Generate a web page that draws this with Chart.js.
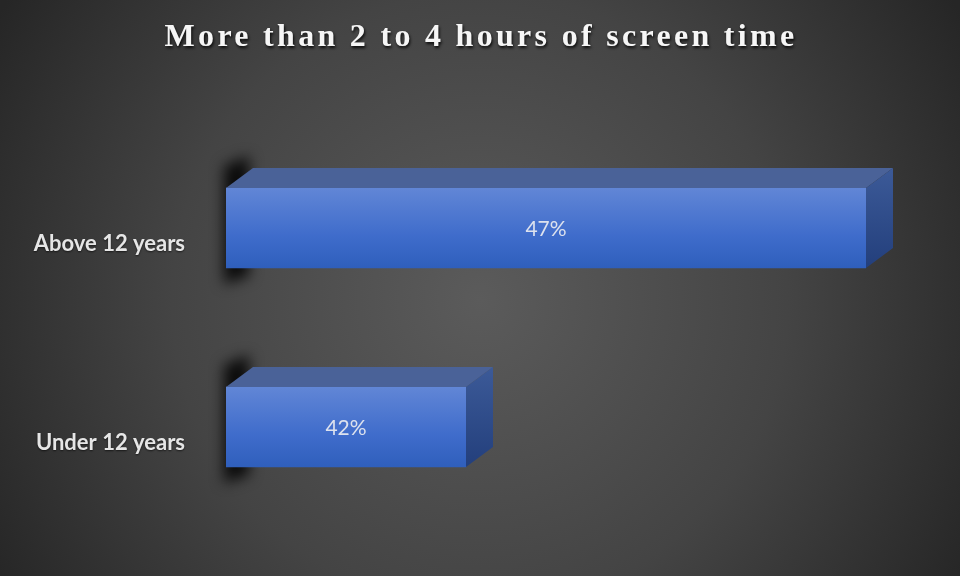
<!DOCTYPE html>
<html>
<head>
<meta charset="utf-8">
<script src="https://cdn.jsdelivr.net/npm/chart.js@4.4.0/dist/chart.umd.min.js"></script>
<style>
  html, body { margin: 0; padding: 0; background: #2a2a2a; }
  #wrap { width: 960px; height: 576px; }
</style>
</head>
<body>
<div id="wrap"><canvas id="chart"></canvas></div>
<script>
// data
const categories = ["Above 12 years", "Under 12 years"];
const values = [47, 42];
const valueLabels = ["47%", "42%"];
const axisMin = 39;
const axisMax = 47;
const titleText = "More than 2 to 4 hours of screen time";

// depth of the 3d box
const DX = 27, DY = 20;

// background + title
const backdrop = {
  id: "backdrop",
  beforeDraw(chart) {
    const c = chart.ctx, w = chart.width, h = chart.height;
    c.save();
    const g = c.createRadialGradient(480, 300, 0, 480, 300, 560);
    g.addColorStop(0, "#5b5b5b");
    g.addColorStop(0.55, "#444444");
    g.addColorStop(1, "#262626");
    c.fillStyle = g;
    c.fillRect(0, 0, w, h);

    c.font = "bold 32px 'Liberation Serif'";
    c.letterSpacing = "3.3px";
    c.textAlign = "center";
    c.textBaseline = "middle";
    c.shadowColor = "rgba(0,0,0,0.85)";
    c.shadowBlur = 3;
    c.shadowOffsetX = 1;
    c.shadowOffsetY = 2;
    c.fillStyle = "#f6f6f6";
    c.fillText(titleText, 481, 38);
    c.restore();
  }
};

// shadow behind the left end of each bar
const wallShadow = {
  id: "wallShadow",
  beforeDatasetsDraw(chart) {
    const c = chart.ctx;
    const meta = chart.getDatasetMeta(0);
    c.save();
    c.filter = "blur(7px)";
    c.fillStyle = "rgba(0,0,0,0.85)";
    meta.data.forEach(el => {
      const top = el.y - el.height / 2, bottom = el.y + el.height / 2;
      c.beginPath();
      c.moveTo(el.base - 2, top - 22);
      c.lineTo(el.base + DX - 4, top - DY - 12);
      c.lineTo(el.base + DX - 4, bottom + 8);
      c.lineTo(el.base - 2, bottom + 16);
      c.closePath();
      c.fill();
    });
    c.restore();
  }
};

// top + side faces, value labels, category labels
const box3d = {
  id: "box3d",
  afterDatasetsDraw(chart) {
    const c = chart.ctx;
    const meta = chart.getDatasetMeta(0);
    c.save();
    meta.data.forEach((el, i) => {
      const top = el.y - el.height / 2, bottom = el.y + el.height / 2;
      // top face
      c.beginPath();
      c.moveTo(el.base, top);
      c.lineTo(el.base + DX, top - DY);
      c.lineTo(el.x + DX, top - DY);
      c.lineTo(el.x, top);
      c.closePath();
      c.fillStyle = "#4a6298";
      c.fill();
      // side face
      const sg = c.createLinearGradient(0, top - DY, 0, bottom);
      sg.addColorStop(0, "#3c5a98");
      sg.addColorStop(1, "#233f7c");
      c.beginPath();
      c.moveTo(el.x, top);
      c.lineTo(el.x + DX, top - DY);
      c.lineTo(el.x + DX, bottom - DY);
      c.lineTo(el.x, bottom);
      c.closePath();
      c.fillStyle = sg;
      c.fill();

      // value label
      c.font = "21px Lato";
      c.textAlign = "center";
      c.textBaseline = "middle";
      c.fillStyle = "#dde2ee";
      c.fillText(valueLabels[i], (el.base + el.x) / 2, el.y + 1);

      // category label
      c.font = "bold 22px Lato";
      c.textAlign = "right";
      c.fillStyle = "#e6e6e6";
      c.shadowColor = "rgba(0,0,0,0.6)";
      c.shadowBlur = 2;
      c.shadowOffsetY = 1;
      c.fillText(categories[i], 185, el.y + 16);
      c.shadowColor = "transparent";
    });
    c.restore();
  }
};

function frontFill(ctx) {
  const chart = ctx.chart;
  let y = chart.scales.y ? chart.scales.y.getPixelForValue(ctx.dataIndex) : NaN;
  if (!isFinite(y)) return "#4a72cc";
  const g = chart.ctx.createLinearGradient(0, y - 40, 0, y + 40);
  g.addColorStop(0, "#6186d6");
  g.addColorStop(0.6, "#3f6ccb");
  g.addColorStop(1, "#2f5fbc");
  return g;
}

new Chart(document.getElementById("chart"), {
  type: "bar",
  data: {
    labels: categories,
    datasets: [{
      data: values,
      base: axisMin,
      backgroundColor: frontFill,
      borderWidth: 0,
      barThickness: 80
    }]
  },
  options: {
    indexAxis: "y",
    responsive: true,
    maintainAspectRatio: false,
    animation: false,
    layout: { padding: { left: 226, right: 94, top: 128.5, bottom: 49.5 } },
    plugins: {
      legend: { display: false },
      title: { display: false },
      tooltip: { enabled: false }
    },
    scales: {
      x: { min: axisMin, max: axisMax, display: false },
      y: { display: false }
    }
  },
  plugins: [backdrop, wallShadow, box3d]
});
</script>
</body>
</html>
